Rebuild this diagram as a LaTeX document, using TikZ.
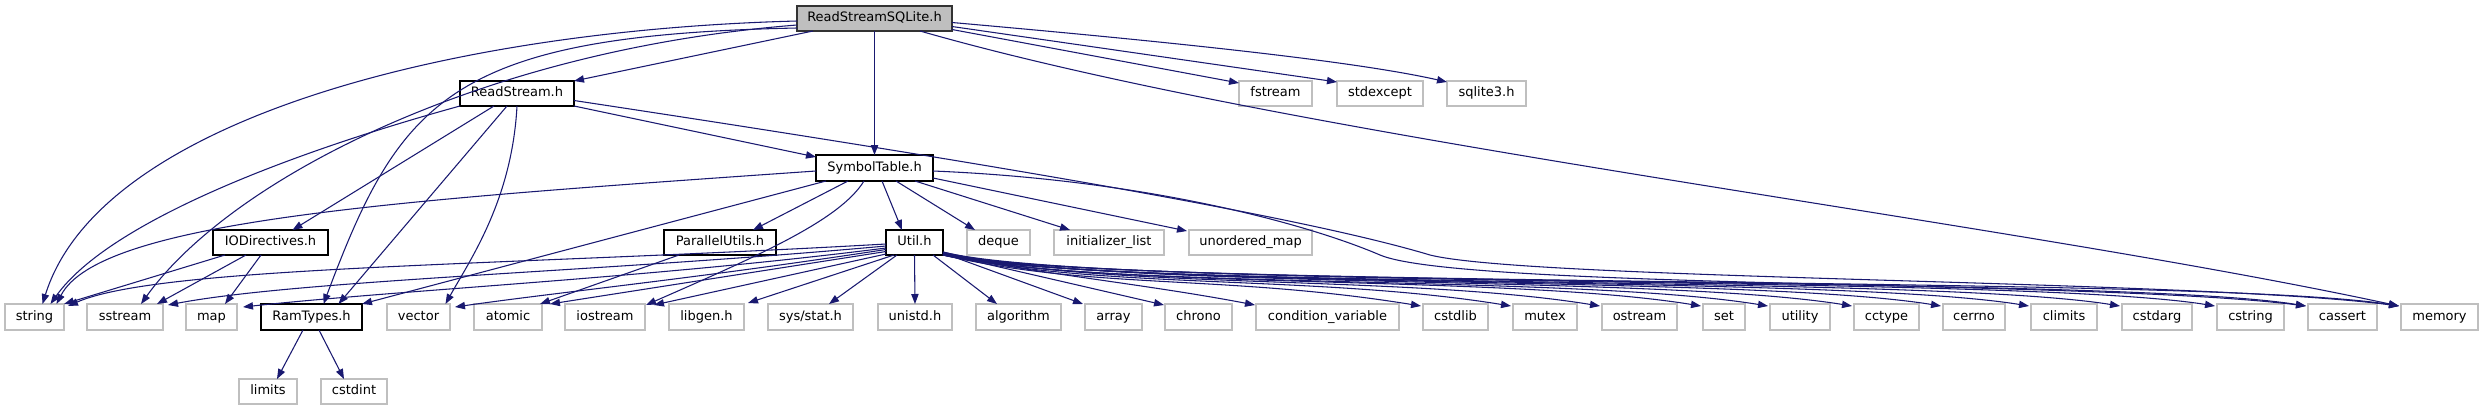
\documentclass[tikz,border=0pt]{standalone}
\usepackage{fontspec}
\setmainfont{DejaVu Sans}
\usetikzlibrary{arrows.meta,calc}
\definecolor{edgec}{HTML}{191970}
\definecolor{grayb}{HTML}{BFBFBF}
\newcommand\bx[7]{\node[#7, minimum width={(#3-#2)*0.75pt}, minimum height={(#5-#4)*0.75pt}] (#1) at ({(#2+#3)/2},{(#4+#5)/2}) {#6};}
\begin{document}
\begin{tikzpicture}[x=0.75pt,y=-0.75pt, font=\fontsize{9.75}{11}\selectfont,
  base/.style={inner sep=0pt, outer sep=0pt, line width=0.9pt, text height=7.2pt, text depth=2pt},
  proj/.style={base, draw=black},
  ext/.style={base, draw=grayb},
  rootn/.style={base, draw=black!80, fill=grayb},
  dep/.style={draw=edgec, line width=0.8pt, -{Triangle[length=7.5pt,width=5.5pt]}}]
\useasboundingbox (0,0) rectangle (2484,411);
% nodes
\bx{root}{797}{952}{6}{31}{ReadStreamSQLite.h}{rootn}
\bx{rs}{460}{574}{81}{106}{ReadStream.h}{proj}
\bx{fstream}{1239}{1312}{81}{106}{fstream}{ext}
\bx{stdexcept}{1337}{1423}{81}{106}{stdexcept}{ext}
\bx{sqlite}{1447}{1526}{81}{106}{sqlite3.h}{ext}
\bx{st}{816}{933}{155}{181}{SymbolTable.h}{proj}
\bx{io}{213}{328}{230}{255}{IODirectives.h}{proj}
\bx{pu}{664}{776}{230}{255}{ParallelUtils.h}{proj}
\bx{util}{886}{943}{230}{255}{Util.h}{proj}
\bx{deque}{967}{1030}{230}{255}{deque}{ext}
\bx{initl}{1054}{1164}{230}{255}{initializer\_list}{ext}
\bx{umap}{1189}{1312}{230}{255}{unordered\_map}{ext}
\bx{string}{5}{64}{304}{330}{string}{ext}
\bx{sstream}{87}{163}{304}{330}{sstream}{ext}
\bx{map}{186}{237}{304}{330}{map}{ext}
\bx{rt}{261}{362}{304}{330}{RamTypes.h}{proj}
\bx{vector}{387}{450}{304}{330}{vector}{ext}
\bx{atomic}{474}{542}{304}{330}{atomic}{ext}
\bx{iostream}{565}{645}{304}{330}{iostream}{ext}
\bx{libgen}{669}{744}{304}{330}{libgen.h}{ext}
\bx{sysstat}{768}{853}{304}{330}{sys/stat.h}{ext}
\bx{unistd}{878}{952}{304}{330}{unistd.h}{ext}
\bx{algorithm}{976}{1061}{304}{330}{algorithm}{ext}
\bx{array}{1085}{1142}{304}{330}{array}{ext}
\bx{chrono}{1165}{1232}{304}{330}{chrono}{ext}
\bx{condvar}{1256}{1399}{304}{330}{condition\_variable}{ext}
\bx{cstdlib}{1423}{1488}{304}{330}{cstdlib}{ext}
\bx{mutex}{1513}{1577}{304}{330}{mutex}{ext}
\bx{ostream}{1602}{1677}{304}{330}{ostream}{ext}
\bx{set}{1703}{1745}{304}{330}{set}{ext}
\bx{utility}{1770}{1830}{304}{330}{utility}{ext}
\bx{cctype}{1854}{1919}{304}{330}{cctype}{ext}
\bx{cerrno}{1943}{2005}{304}{330}{cerrno}{ext}
\bx{climits}{2031}{2097}{304}{330}{climits}{ext}
\bx{cstdarg}{2122}{2192}{304}{330}{cstdarg}{ext}
\bx{cstring}{2217}{2284}{304}{330}{cstring}{ext}
\bx{cassert}{2308}{2377}{304}{330}{cassert}{ext}
\bx{memory}{2401}{2478}{304}{330}{memory}{ext}
\bx{limits}{239}{297}{379}{404}{limits}{ext}
\bx{cstdint}{321}{387}{379}{404}{cstdint}{ext}
% root edges
\draw[dep] ($(root.south west)+(16,0)$) -- (rs.north east);
\draw[dep] (root.south) -- (st.north);
\draw[dep] ($(root.west)+(0,2.5)$) .. controls (450,30) and (100,120) .. ($(string.north)+(8,0)$);
\draw[dep] ($(root.west)+(0,6.5)$) .. controls (480,50) and (230,180) .. ($(sstream.north)+(16,0)$);
\draw[dep] ($(root.west)+(0,9.5)$) .. controls (450,35) and (400,100) .. ($(rt.north)+(12,0)$);
\draw[dep] ($(root.east)+(0,11)$) -- ($(fstream.north west)+(0,2)$);
\draw[dep] ($(root.east)+(0,8)$) -- ($(stdexcept.north west)+(0,1)$);
\draw[dep] ($(root.east)+(0,4)$) .. controls (1150,40) and (1350,60) .. ($(sqlite.north west)+(0,1)$);
\draw[dep] ($(root.south east)+(-32,0)$) .. controls (1300,140) and (2000,220) .. ($(memory.north west)+(-2,2)$);
% ReadStream edges
\draw[dep] (rs.south west) .. controls (300,150) and (110,220) .. ($(string.north)+(16,0)$);
\draw[dep] ($(rs.south)+(-23,0)$) -- ($(io.north)+(22,0)$);
\draw[dep] ($(rs.south)+(-10,0)$) -- ($(rt.north)+(27,0)$);
\draw[dep] (rs.south) .. controls (512,200) and (470,260) .. ($(vector.north)+(27,0)$);
\draw[dep] (rs.south east) -- ($(st.north west)+(0,2)$);
\draw[dep] ($(rs.east)+(0,7)$) .. controls (1100,180) and (1330,225) .. (1430,255) .. controls (1530,280) and (2200,280) .. ($(memory.north west)+(-2,2)$);
% SymbolTable edges
\draw[dep] ($(st.west)+(0,3)$) .. controls (400,200) and (100,220) .. ($(string.north)+(22,0)$);
\draw[dep] ($(st.south west)+(10,0)$) -- (rt.north east);
\draw[dep] ($(st.south west)+(32,0)$) -- ($(pu.north)+(33,0)$);
\draw[dep] ($(st.south)+(-10.5,0)$) .. controls (840,220) and (760,255) .. ($(iostream.north east)+(1,1)$);
\draw[dep] ($(st.south)+(7.5,0)$) -- ($(util.north)+(-12.5,0)$);
\draw[dep] ($(st.south)+(21.5,0)$) -- ($(deque.north)+(-23.5,0)$);
\draw[dep] ($(st.south east)+(-18,0)$) -- ($(initl.north)+(-39,0)$);
\draw[dep] ($(st.south east)+(0,-3)$) -- ($(umap.north west)+(-2,1)$);
\draw[dep] ($(st.east)+(0,3)$) .. controls (1150,180) and (1310,225) .. (1380,255) .. controls (1460,289) and (2100,280) .. ($(cassert.north west)+(-2,2)$);
% IODirectives edges
\draw[dep] ($(io.south west)+(12,0)$) -- (string.north east);
\draw[dep] ($(io.south west)+(33,0)$) -- ($(sstream.north east)+(-6,0)$);
\draw[dep] ($(io.south west)+(48,0)$) -- ($(map.north)+(13.5,0)$);
% ParallelUtils
\draw[dep] ($(pu.south west)+(15,0)$) -- ($(atomic.north east)+(-2,0)$);
% RamTypes
\draw[dep] ($(rt.south)+(-8.5,0)$) -- ($(limits.north)+(9,0)$);
\draw[dep] ($(rt.south)+(7.5,0)$) -- ($(cstdint.north)+(-10,0)$);
% Util edges, left side
\draw[dep] ($(util.west)+(0,1.5)$) .. controls (500,266) and (160,266) .. ($(string.north east)+(4,2)$);
\draw[dep] ($(util.west)+(0,3.5)$) .. controls (600,272) and (300,280) .. ($(sstream.north east)+(5,1)$);
\draw[dep] ($(util.west)+(0,5.5)$) .. controls (650,278) and (400,290) .. ($(map.north east)+(6,3)$);
\draw[dep] ($(util.west)+(0,7)$) .. controls (700,278) and (560,292) .. ($(vector.north east)+(5,3)$);
\draw[dep] ($(util.west)+(0,9)$) -- ($(atomic.north east)+(8,0)$);
\draw[dep] ($(util.south west)+(0,-1)$) -- ($(iostream.north east)+(9,1)$);
\draw[dep] ($(util.south west)+(8,0)$) -- ($(libgen.north east)+(4,-1)$);
\draw[dep] ($(util.south west)+(11,0)$) -- ($(sysstat.north)+(18.5,0)$);
\draw[dep] (util.south) -- (unistd.north);
\draw[dep] ($(util.south east)+(-10,0)$) -- ($(algorithm.north)+(-21.5,0)$);
\draw[dep] ($(util.south east)+(0,-2)$) -- ($(array.north west)+(-2,0)$);
\draw[dep] ($(util.south east)+(0,-1)$) -- ($(chrono.north west)+(-1,1)$);
\draw[dep] (util.south east) .. controls (1050,275) and (1150,285) .. ($(condvar.north west)+(-1,1)$);
% Util edges, far right bundle
\foreach \n/\dy in {cstdlib/0,mutex/-1,ostream/-2,set/-1,utility/0,cctype/-3,cerrno/-2,climits/-1,cstdarg/0,cstring/-3,cassert/-2,memory/-1}{
  \draw[dep] ($(util.south east)+(0,\dy)$) .. controls ($(util.south east)+(150,35)$) and ($(\n.north west)+(-200,-30)$) .. ($(\n.north west)+(-2,2)$);
}
\end{tikzpicture}
\end{document}
